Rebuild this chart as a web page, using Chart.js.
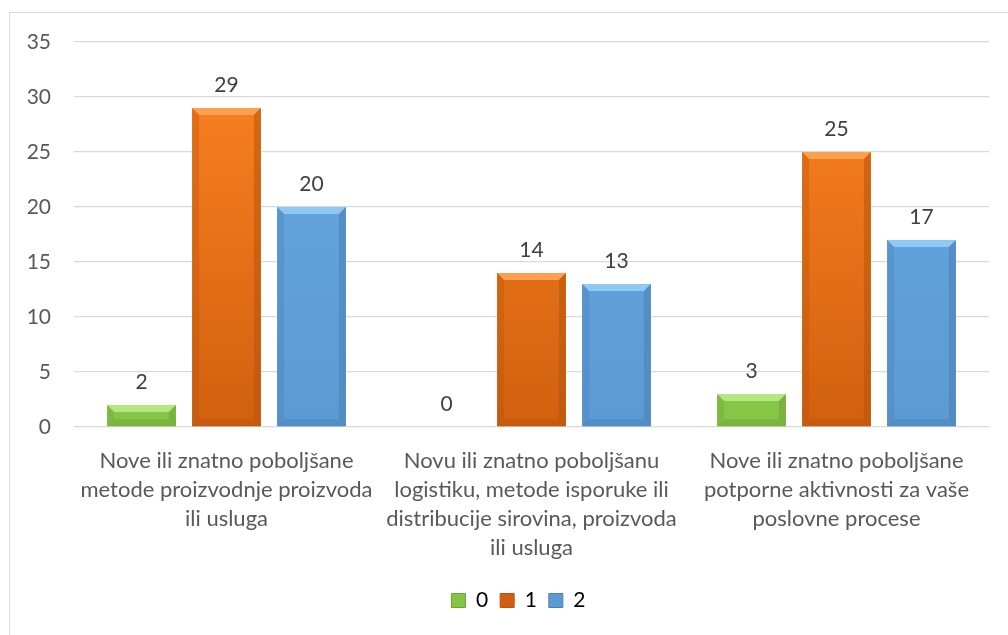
<!DOCTYPE html>
<html>
<head>
<meta charset="utf-8">
<script src="https://cdn.jsdelivr.net/npm/chart.js@4"></script>
<style>
  html, body { margin: 0; padding: 0; background: #fff; }
  #wrap { position: relative; width: 1008px; height: 635px; }
  #frame { position: absolute; left: 9px; top: 12px; width: 1010px; height: 640px;
           border: 1px solid #d9d9d9; pointer-events: none; }
</style>
</head>
<body>
<div id="wrap">
  <canvas id="canvas" width="1008" height="635"></canvas>
  <div id="frame"></div>
</div>
<script>
// data
let categories = [
  ["Nove ili znatno poboljšane", "metode proizvodnje proizvoda", "ili usluga"],
  ["Novu ili znatno poboljšanu", "logistiku, metode isporuke ili", "distribucije sirovina, proizvoda", "ili usluga"],
  ["Nove ili znatno poboljšane", "potporne aktivnosti za vaše", "poslovne procese"]
];
let seriesNames = ["0", "1", "2"];
let values0 = [2, 0, 3];
let values1 = [29, 14, 25];
let values2 = [20, 13, 17];
let yTicks = [0, 5, 10, 15, 20, 25, 30, 35];

// colours: [top of face, bottom of face, top bevel, side bevel]
let palette = [
  ["#9ad85a", "#86c446", "#b9ea86", "#6fa33a"],
  ["#ff8424", "#d0600f", "#ffa456", "#b8540c"],
  ["#66a8e4", "#5c9ad4", "#93cdf6", "#4a7fb5"]
];

let font = "Lato, 'Open Sans', sans-serif";
let txt = "#595959";

function faceColor(i){
  return (ctx) => {
    let area = ctx.chart.chartArea;
    if (!area) return palette[i][0];
    let g = ctx.chart.ctx.createLinearGradient(0, area.top, 0, area.bottom);
    g.addColorStop(0, palette[i][0]);
    g.addColorStop(1, palette[i][1]);
    return g;
  };
}

// Excel like bevel on the bars + value labels over them
const bevel = {
  id: "bevel",
  afterLayout(chart){
    // legend sits a bit right of the middle in the original
    chart.legend.left += 24;
    chart.legend.right += 24;
  },
  afterDatasetsDraw(chart){
    let c = chart.ctx;
    chart.data.datasets.forEach((ds, i) => {
      let meta = chart.getDatasetMeta(i);
      meta.data.forEach((bar, j) => {
        let p = bar.getProps(["x", "y", "base", "width"], true);
        let x0 = p.x - p.width / 2, x1 = p.x + p.width / 2;
        let y0 = Math.min(p.y, p.base), y1 = Math.max(p.y, p.base);
        let b = Math.min(7, (y1 - y0) / 2, p.width / 4);
        if (y1 - y0 > 1) {
          c.save();
          c.fillStyle = palette[i][2];
          c.globalAlpha = 0.9;
          c.beginPath();
          c.moveTo(x0, y0); c.lineTo(x1, y0); c.lineTo(x1 - b, y0 + b); c.lineTo(x0 + b, y0 + b);
          c.closePath(); c.fill();
          c.fillStyle = palette[i][3];
          c.globalAlpha = 0.35;
          c.beginPath();
          c.moveTo(x0, y0); c.lineTo(x0 + b, y0 + b); c.lineTo(x0 + b, y1 - b); c.lineTo(x0, y1);
          c.closePath(); c.fill();
          c.globalAlpha = 0.55;
          c.beginPath();
          c.moveTo(x1, y0); c.lineTo(x1 - b, y0 + b); c.lineTo(x1 - b, y1 - b); c.lineTo(x1, y1);
          c.closePath(); c.fill();
          c.globalAlpha = 0.45;
          c.beginPath();
          c.moveTo(x0, y1); c.lineTo(x0 + b, y1 - b); c.lineTo(x1 - b, y1 - b); c.lineTo(x1, y1);
          c.closePath(); c.fill();
          c.restore();
        }
        c.save();
        c.fillStyle = "#404040";
        c.font = "21px " + font;
        c.textAlign = "center";
        c.textBaseline = "middle";
        c.fillText(ds.data[j], p.x, y0 - 23);
        c.restore();
      });
    });
  }
};

let ctx = document.getElementById("canvas").getContext("2d");
let grafica = new Chart(ctx, {
  type: "bar",
  data: {
    labels: categories,
    datasets: [
      { label: seriesNames[0], data: values0, backgroundColor: faceColor(0) },
      { label: seriesNames[1], data: values1, backgroundColor: faceColor(1) },
      { label: seriesNames[2], data: values2, backgroundColor: faceColor(2) }
    ]
  },
  options: {
    responsive: false,
    animation: false,
    layout: { padding: { top: 42, right: 19, left: 0, bottom: 14 } },
    datasets: { bar: { categoryPercentage: 0.836, barPercentage: 0.81 } },
    scales: {
      x: {
        grid: { display: false },
        border: { display: false },
        ticks: { color: txt, font: { family: font, size: 22, lineHeight: 1.32 }, padding: 11, maxRotation: 0, autoSkip: false },
        afterFit: (s) => { s.height = 151; }
      },
      y: {
        min: 0, max: 35,
        afterBuildTicks: (s) => { s.ticks = yTicks.map(v => ({ value: v })); },
        border: { display: false },
        grid: { color: "#d9d9d9", lineWidth: 1.3, drawTicks: false },
        ticks: { color: txt, font: { family: font, size: 21 }, padding: 23 },
        afterFit: (s) => { s.width = 74; }
      }
    },
    plugins: {
      legend: {
        position: "bottom",
        labels: {
          color: txt,
          font: { family: font, size: 21 },
          boxWidth: 14, boxHeight: 14, padding: 12,
          generateLabels: (chart) => chart.data.datasets.map((ds, i) => ({
            text: ds.label, fillStyle: palette[i][1], strokeStyle: palette[i][3], lineWidth: 1, datasetIndex: i
          }))
        }
      },
      tooltip: { enabled: false }
    }
  },
  plugins: [bevel]
});
</script>
</body>
</html>
